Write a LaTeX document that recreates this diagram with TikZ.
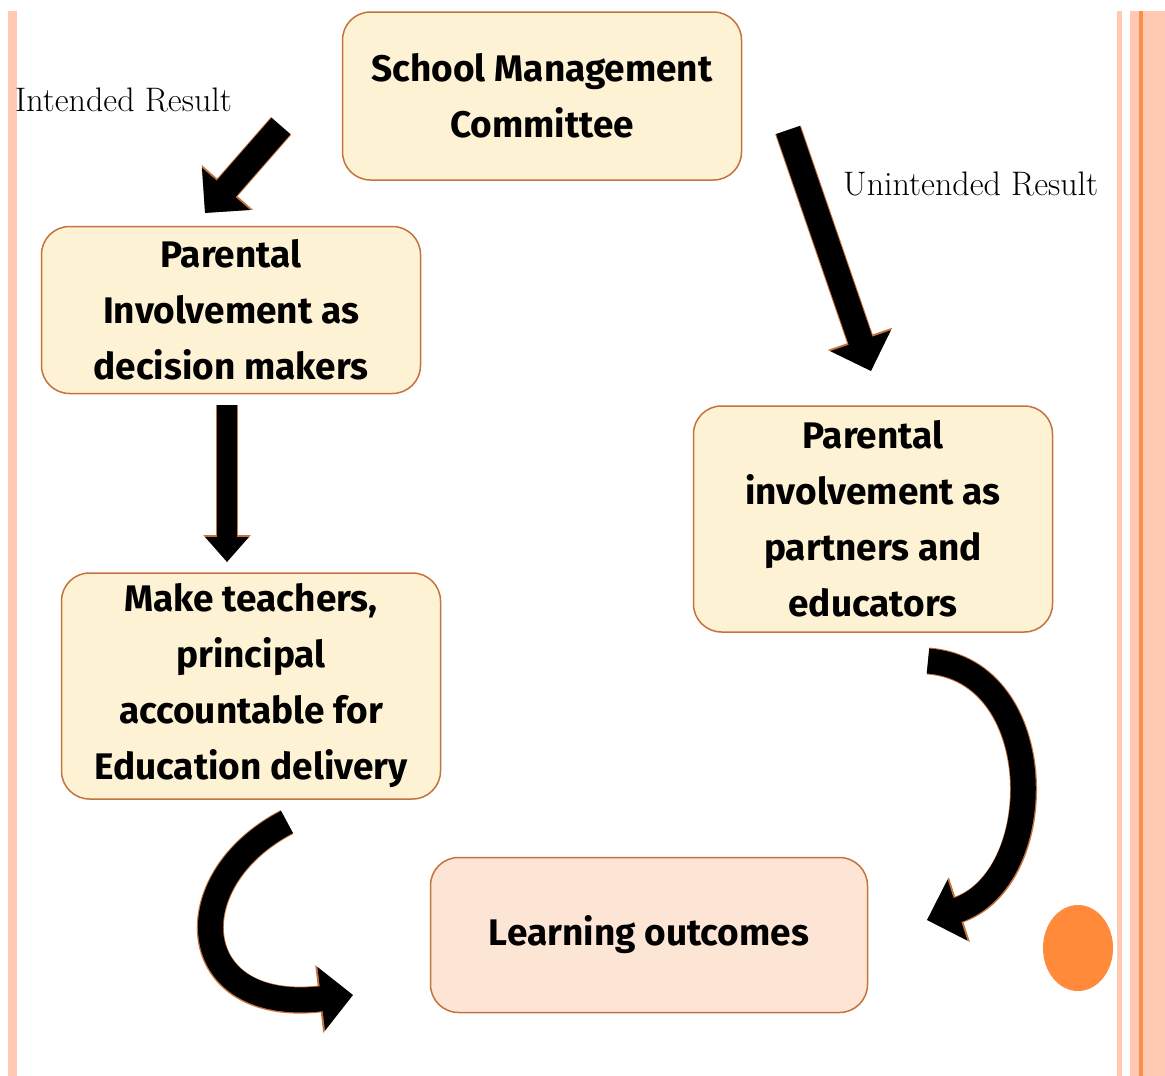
\documentclass[tikz,border=0pt]{standalone}
\usepackage{fontspec}
\setsansfont{Fira Sans}
\usetikzlibrary{arrows.meta}
\definecolor{creme}{HTML}{FEF2D5}
\definecolor{pessego}{HTML}{FDE5D6}
\definecolor{borda}{HTML}{C4733F}
\definecolor{salmao}{HTML}{FFC9B2}
\definecolor{laranja}{HTML}{F8904A}
\definecolor{bola}{HTML}{FF8A3A}

\begin{document}
\begin{tikzpicture}[x=1pt,y=-1pt]
        \tikzstyle{caixa}=[draw=borda, line width=1.5pt, fill=creme, rounded corners=28pt, align=center, inner sep=0pt, font=\sffamily\bfseries\fontsize{37}{56}\selectfont]
        \tikzstyle{rotulo}=[anchor=base west, inner sep=0pt, font=\fontsize{34}{36}\selectfont]
        \tikzstyle{seta}=[line width=25pt, -{Triangle[length=32pt,width=62pt]}, preaction={draw=borda, line width=27pt, -{Triangle[length=34pt,width=66pt]}}]
        \tikzstyle{setinha}=[line width=20pt, -{Triangle[length=25pt,width=42pt]}, preaction={draw=borda, line width=22pt, -{Triangle[length=27pt,width=46pt]}}]

        \fill[white] (0,0) rectangle (1165,1076);
        \useasboundingbox (0,0) rectangle (1165,1076);

        % bordas
        \fill[salmao] (8,11) rectangle (17,1076);
        \fill[salmao] (1117,11) rectangle (1122,1076);
        \fill[salmao] (1130,11) rectangle (1165,1076);
        \fill[laranja] (1139,11) rectangle (1143,1076);
        \fill[bola] (1078,948) ellipse [x radius=35pt, y radius=43pt];

        \coordinate (S) at (542,96);
        \coordinate (D) at (231,310);
        \coordinate (A) at (251,686);
        \coordinate (P) at (873,519);
        \coordinate (L) at (649,935);

        \node at (S)[caixa, minimum width=399pt, minimum height=168pt] (smc) {School Management\\Committee};
        \node at (D)[caixa, minimum width=379pt, minimum height=167pt] (dec) {Parental\\Involvement as\\decision makers};
        \node at (A)[caixa, minimum width=379pt, minimum height=226pt] (acc) {Make teachers,\\principal\\accountable for\\Education delivery};
        \node at (P)[caixa, minimum width=359pt, minimum height=226pt] (par) {Parental\\involvement as\\partners and\\educators};
        \node at (L)[caixa, fill=pessego, minimum width=437pt, minimum height=155pt] (lrn) {Learning outcomes};

        \node at (15,111)[rotulo] (int) {Intended Result};
        \node at (843,195)[rotulo] (unint) {Unintended Result};

        \coordinate (i1) at (281,126);
        \coordinate (f1) at (205,213);
        \coordinate (i2) at (227,405);
        \coordinate (f2) at (227,562);
        \coordinate (i3) at (788,130);
        \coordinate (f3) at (871,371);
        \coordinate (i4) at (928,661);
        \coordinate (f4) at (927,920);
        \coordinate (i5) at (287,822);
        \coordinate (f5) at (353,995);

        \draw[seta] (i1) -- (f1);
        \draw[setinha] (i2) -- (f2);
        \draw[seta] (i3) -- (f3);
        \draw[seta] (i4) .. controls (1050,670) and (1050,880) .. (f4);
        \draw[seta] (i5) .. controls (175,880) and (185,1015) .. (f5);
      \end{tikzpicture}
\end{document}
